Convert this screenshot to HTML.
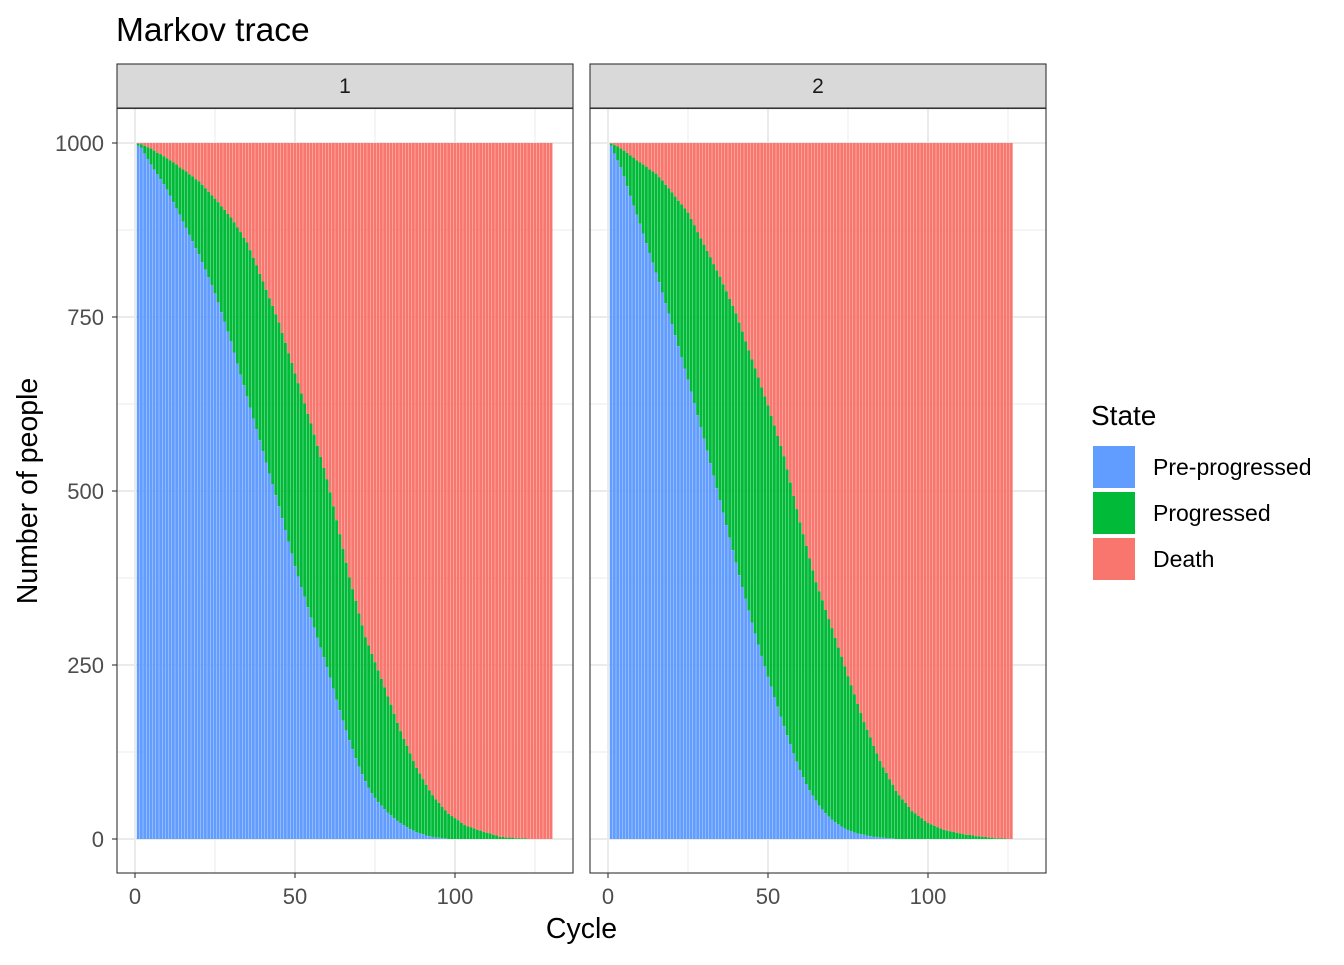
<!DOCTYPE html>
<html><head><meta charset="utf-8">
<style>
body{margin:0;background:#fff;}
svg text{font-family:"Liberation Sans",sans-serif;}
</style></head>
<body>
<svg id="chart" width="1344" height="960" xmlns="http://www.w3.org/2000/svg">
<rect width="1344" height="960" fill="#fff"/>
<text x="116" y="41" font-size="33.5" fill="#000">Markov trace</text>
<g id="panels"></g>
<text x="581.5" y="938" font-size="28.5" text-anchor="middle" fill="#000">Cycle</text>
<text transform="translate(37,491) rotate(-90)" font-size="28.5" text-anchor="middle" fill="#000">Number of people</text>
<g>
<text x="1091" y="425" font-size="28" fill="#000">State</text>
<rect x="1093" y="446" width="42" height="42" fill="#619CFF"/>
<rect x="1093" y="492" width="42" height="42" fill="#00BA38"/>
<rect x="1093" y="538" width="42" height="42" fill="#F8766D"/>
<text x="1153" y="475" font-size="23" fill="#000">Pre-progressed</text>
<text x="1153" y="521" font-size="23" fill="#000">Progressed</text>
<text x="1153" y="567" font-size="23" fill="#000">Death</text>
</g>
</svg>
<script>
const panelLabels = ["1","2"];
const preProgressed1 = [996,993,985,977,969,962,955,948,941,933,924,915,906,897,887,878,868,859,849,840,829,818,807,796,784,771,757,743,729,715,699,683,667,652,636,620,604,589,573,557,541,525,510,494,478,461,444,427,410,392,377,362,348,333,318,304,289,275,261,247,232,216,200,185,170,156,142,129,116,104,93,83,74,66,59,53,48,43,38,34,30,26,23,20,17,14,12,10,8,7,5,4,3,2,2,1,1,0,0,0,0,0,0,0,0,0,0,0,0,0,0,0,0,0,0,0,0,0,0,0,0,0,0,0,0,0,0,0,0,0];
const progressed1 = [3,5,11,17,23,27,31,36,40,45,51,57,63,68,75,81,87,93,99,105,111,117,123,129,136,144,152,161,169,178,187,196,205,212,221,226,231,235,239,244,248,252,256,260,264,266,269,271,274,277,278,278,278,278,279,277,276,274,272,270,266,262,258,253,247,241,234,230,226,220,214,207,204,200,195,189,182,175,167,159,150,141,132,124,117,109,100,92,86,79,73,66,60,55,50,45,40,36,33,30,27,23,20,18,17,15,13,12,10,9,8,6,5,3,3,2,2,2,1,1,1,1,0,0,0,0,0,0,0,0];
const preProgressed2 = [996,985,975,965,952,938,924,910,897,884,870,856,842,828,814,800,785,770,755,740,724,708,692,676,660,643,626,609,592,575,558,540,522,504,487,469,451,433,415,397,379,362,345,328,311,295,279,263,248,233,219,204,190,176,162,149,136,123,111,99,89,79,70,62,55,48,42,37,32,28,24,21,18,15,13,11,9,8,7,6,5,4,3,3,2,2,1,1,1,0,0,0,0,0,0,0,0,0,0,0,0,0,0,0,0,0,0,0,0,0,0,0,0,0,0,0,0,0,0,0,0,0,0,0,0,0];
const progressed2 = [3,12,20,27,37,48,58,69,78,88,99,110,120,131,142,151,161,170,180,189,199,209,220,230,240,248,256,263,271,279,287,296,304,313,321,328,336,343,351,358,363,367,370,374,378,381,384,386,388,390,389,390,389,389,388,382,376,370,363,356,349,342,333,324,314,308,301,292,284,275,265,254,244,233,221,210,199,186,174,162,152,142,131,120,110,101,94,85,77,69,63,57,52,46,40,37,33,30,26,23,21,19,17,15,13,12,11,10,9,8,7,6,6,5,4,4,3,3,2,2,1,1,1,1,0,0];
const cohortSize = 1000;
const yTicks = [0,250,500,750,1000];
const yMinor = [125,375,625,875];
const xTicks = [0,50,100];
const xMinor = [25,75,125];

const NS = "http://www.w3.org/2000/svg";
const panelsG = document.getElementById("panels");
const panelLeft = [117,590], panelW = 456, pTop = 108.5, pBot = 873;
const yScale = v => 839 - v * 0.696;
function mk(tag, attrs, parent){const e=document.createElementNS(NS,tag);for(const k in attrs)e.setAttribute(k,attrs[k]);parent.appendChild(e);return e;}

const series = [[preProgressed1,progressed1],[preProgressed2,progressed2]];
panelLabels.forEach((lab,pi)=>{
  const L = panelLeft[pi];
  const xScale = c => L + 18 + c * 3.2;
  const g = mk("g",{},panelsG);
  
  
  const strip = mk("rect",{x:L,y:64,width:panelW,height:44,fill:"#d9d9d9",stroke:"#333",'stroke-width':1.1},g);
  
  
  const st = mk("text",{x:L+panelW/2,y:93,'font-size':21,'text-anchor':'middle',fill:'#1a1a1a'},g);
  st.textContent = lab;
  
  
  yMinor.forEach(v=>mk("line",{x1:L,x2:L+panelW,y1:yScale(v),y2:yScale(v),stroke:"#ebebeb",'stroke-width':1},g));
  xMinor.forEach(v=>mk("line",{x1:xScale(v),x2:xScale(v),y1:pTop,y2:pBot,stroke:"#ebebeb",'stroke-width':1},g));
  yTicks.forEach(v=>mk("line",{x1:L,x2:L+panelW,y1:yScale(v),y2:yScale(v),stroke:"#ebebeb",'stroke-width':2},g));
  xTicks.forEach(v=>mk("line",{x1:xScale(v),x2:xScale(v),y1:pTop,y2:pBot,stroke:"#ebebeb",'stroke-width':2},g));
  const [pre,prog] = series[pi];
  const bw = 0.9*3.2;
  pre.forEach((b,i)=>{
    const c = i+1, x = xScale(c)-bw/2, gr = prog[i];
    const d = mk("rect",{x:x,y:yScale(cohortSize),width:bw,height:yScale(b+gr)-yScale(cohortSize),fill:"#F8766D"},g);
    
    
    const p = mk("rect",{x:x,y:yScale(b+gr),width:bw,height:yScale(b)-yScale(b+gr),fill:"#00BA38"},g);
    
    
    const q = mk("rect",{x:x,y:yScale(b),width:bw,height:yScale(0)-yScale(b),fill:"#619CFF"},g);
    
    
  });
  const fr = mk("rect",{x:L,y:pTop,width:panelW,height:pBot-pTop,fill:"none",stroke:"#333",'stroke-width':1.1},g);
  
  
  xTicks.forEach(v=>{
    mk("line",{x1:xScale(v),x2:xScale(v),y1:pBot,y2:pBot+5,stroke:"#333",'stroke-width':1.1},g);
    const t = mk("text",{x:xScale(v),y:904,'font-size':22,'text-anchor':'middle',fill:'#4d4d4d'},g);
    t.textContent = v;
    
    
  });
  if(pi===0){
    yTicks.forEach(v=>{
      mk("line",{x1:L-5,x2:L,y1:yScale(v),y2:yScale(v),stroke:"#333",'stroke-width':1.1},g);
      const t = mk("text",{x:L-13,y:yScale(v)+8,'font-size':22,'text-anchor':'end',fill:'#4d4d4d'},g);
      t.textContent = v;
      
      
    });
  }
});
</script>
</body></html>
